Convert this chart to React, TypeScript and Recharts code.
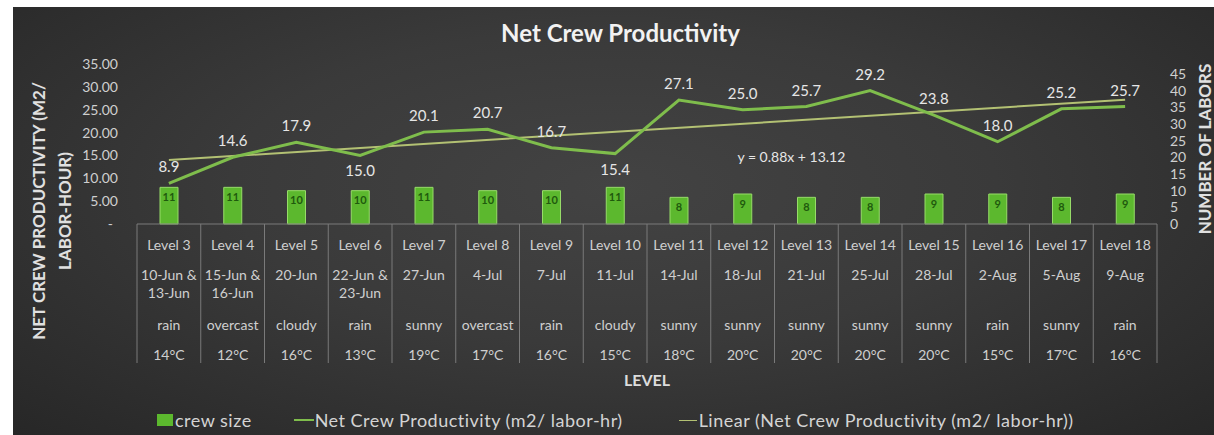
import React from 'react';
import {
    ComposedChart,
    Bar,
    Line,
    XAxis,
    YAxis,
    LabelList,
    Legend,
    ReferenceDot,
} from 'recharts';

const levels = [
    'Level 3', 'Level 4', 'Level 5', 'Level 6', 'Level 7', 'Level 8', 'Level 9', 'Level 10',
    'Level 11', 'Level 12', 'Level 13', 'Level 14', 'Level 15', 'Level 16', 'Level 17', 'Level 18',
];
const workDates = [
    '10-Jun &|13-Jun', '15-Jun &|16-Jun', '20-Jun', '22-Jun &|23-Jun', '27-Jun', '4-Jul', '7-Jul', '11-Jul',
    '14-Jul', '18-Jul', '21-Jul', '25-Jul', '28-Jul', '2-Aug', '5-Aug', '9-Aug',
];
const weather = [
    'rain', 'overcast', 'cloudy', 'rain', 'sunny', 'overcast', 'rain', 'cloudy',
    'sunny', 'sunny', 'sunny', 'sunny', 'sunny', 'rain', 'sunny', 'rain',
];
const temperatures = [
    '14°C', '12°C', '16°C', '13°C', '19°C', '17°C', '16°C', '15°C',
    '18°C', '20°C', '20°C', '20°C', '20°C', '15°C', '17°C', '16°C',
];
const crewSize = [11, 11, 10, 10, 11, 10, 10, 11, 8, 9, 8, 8, 9, 9, 8, 9];
const productivity = [8.9, 14.6, 17.9, 15.0, 20.1, 20.7, 16.7, 15.4, 27.1, 25.0, 25.7, 29.2, 23.8, 18.0, 25.2, 25.7];
// linear trendline, read at the first and last level
const trendline = [14.0, null, null, null, null, null, null, null, null, null, null, null, null, null, null, 27.2];
const leftTicks = [0, 5, 10, 15, 20, 25, 30, 35];
const rightTicks = [0, 5, 10, 15, 20, 25, 30, 35, 40, 45];
const labelsBelow = ['Level 6', 'Level 10'];

const data = levels.map((level, i) => ({
    level,
    crew: crewSize[i],
    productivity: productivity[i],
    trend: trendline[i],
}));

const W = 1201;
const H = 428;
const PLOT_LEFT = 124;
const PLOT_RIGHT = 1144;
const BAND = (PLOT_RIGHT - PLOT_LEFT) / levels.length;
const TEXT = '#cfcfcf';
const GRID = '#7a7a7a';
const BAR_GREEN = '#5cb82e';
const LINE_GREEN = '#7fbd4c';
const TREND_GREEN = '#b3c173';

const CategoryTick = ({ x, y, payload }: any) => {
    const i = levels.indexOf(payload.value);
    const dates = workDates[i].split('|');
    const left = x - BAND / 2;
    return (
        <g>
            <line x1={left} x2={left} y1={y} y2={y + 139} stroke={GRID} strokeWidth={1} />
            {i === levels.length - 1 && (
                <line x1={x + BAND / 2} x2={x + BAND / 2} y1={y} y2={y + 139} stroke={GRID} strokeWidth={1} />
            )}
            <text x={x} y={y + 26} textAnchor="middle" fill={TEXT} fontSize={14}>{levels[i]}</text>
            {dates.map((d, k) => (
                <text key={k} x={x} y={y + 56 + k * 18} textAnchor="middle" fill={TEXT} fontSize={14}>{d}</text>
            ))}
            <text x={x} y={y + 106} textAnchor="middle" fill={TEXT} fontSize={14}>{weather[i]}</text>
            <text x={x} y={y + 136} textAnchor="middle" fill={TEXT} fontSize={14}>{temperatures[i]}</text>
        </g>
    );
};

const LeftTick = ({ x, y, payload }: any) => (
    <text x={payload.value === 0 ? x - 5 : x} y={y + 5} textAnchor="end" fill={TEXT} fontSize={14}>
        {payload.value === 0 ? '-' : payload.value.toFixed(2)}
    </text>
);

const RightTick = ({ x, y, payload }: any) => (
    <text x={x} y={y + 5} textAnchor="start" fill={TEXT} fontSize={14}>{payload.value}</text>
);

const ProductivityLabel = ({ x, y, value, index }: any) => {
    const below = labelsBelow.includes(levels[index]);
    return (
        <text x={x} y={below ? y + 21 : y - 11} textAnchor="middle" fill="#e6e6e6" fontSize={15}>
            {Number(value).toFixed(1)}
        </text>
    );
};

const LegendContent = () => (
    <div style={{ height: 30, display: 'flex', alignItems: 'center', justifyContent: 'flex-start', color: '#d4d4d4', fontSize: 18, letterSpacing: 0.5, paddingLeft: 144 }}>
        <span style={{ display: 'flex', alignItems: 'center' }}>
            <span style={{ width: 16, height: 12, background: BAR_GREEN, marginRight: 2 }} />crew size
        </span>
        <span style={{ display: 'flex', alignItems: 'center', marginLeft: 42 }}>
            <span style={{ width: 20, height: 2, background: LINE_GREEN, marginRight: 1 }} />Net Crew Productivity (m2/ labor-hr)
        </span>
        <span style={{ display: 'flex', alignItems: 'center', marginLeft: 56 }}>
            <span style={{ width: 18, height: 1, background: TREND_GREEN, marginRight: 2 }} />Linear (Net Crew Productivity (m2/ labor-hr))
        </span>
    </div>
);

export default function App() {
    return (
        <div
            style={{
                position: 'absolute',
                left: 13,
                top: 7,
                width: W,
                height: H,
                fontFamily: 'Lato, "Open Sans", sans-serif',
                background: 'radial-gradient(ellipse at 50% 42%, #434343 0%, #3a3a3a 45%, #272727 100%)',
            }}
        >
            <div
                style={{
                    position: 'absolute',
                    top: 11,
                    left: 0,
                    width: W + 14,
                    textAlign: 'center',
                    color: '#f2f2f2',
                    fontSize: 24,
                    fontWeight: 700,
                }}
            >
                Net Crew Productivity
            </div>
            <ComposedChart width={W} height={H} data={data} margin={{ top: 57, right: 0, bottom: 0, left: 0 }}>
                <XAxis
                    dataKey="level"
                    height={181}
                    tickLine={false}
                    tickSize={0}
                    tickMargin={0}
                    interval={0}
                    axisLine={{ stroke: GRID }}
                    tick={<CategoryTick />}
                    label={({ viewBox }: any) => (
                        <text x={viewBox.x + viewBox.width / 2} y={viewBox.y + 162} textAnchor="middle" fill="#dcdcdc" fontSize={16} fontWeight={700}>
                            LEVEL
                        </text>
                    )}
                />
                <YAxis
                    yAxisId="left"
                    width={PLOT_LEFT}
                    domain={[0, 35]}
                    ticks={leftTicks}
                    interval={0}
                    axisLine={false}
                    tickLine={false}
                    tickSize={0}
                    tickMargin={19}
                    tick={<LeftTick />}
                    label={() => (
                        <text transform="translate(26 204) rotate(-90)" textAnchor="middle" fill="#e0e0e0" fontSize={17} fontWeight={700}>
                            <tspan x={0} y={6}>NET CREW PRODUCTIVITY (M2/</tspan>
                            <tspan x={0} y={32}>LABOR-HOUR)</tspan>
                        </text>
                    )}
                />
                <YAxis
                    yAxisId="right"
                    orientation="right"
                    width={W - PLOT_RIGHT}
                    domain={[0, 48]}
                    ticks={rightTicks}
                    interval={0}
                    axisLine={false}
                    tickLine={false}
                    tickSize={0}
                    tickMargin={13}
                    tick={<RightTick />}
                    label={() => (
                        <text transform="translate(1192 142) rotate(-90)" textAnchor="middle" fill="#e0e0e0" fontSize={17} fontWeight={700}>
                            <tspan x={0} y={6}>NUMBER OF LABORS</tspan>
                        </text>
                    )}
                />
                <Legend verticalAlign="bottom" content={<LegendContent />} />
                <Bar
                    yAxisId="right"
                    dataKey="crew"
                    name="crew size"
                    barSize={18}
                    fill={BAR_GREEN}
                    stroke="#97dc69"
                    strokeWidth={1}
                    isAnimationActive={false}
                >
                    <LabelList dataKey="crew" position="insideTop" offset={6} fill="#1f5a0d" fontSize={11} fontWeight={700} />
                </Bar>
                <Line
                    yAxisId="left"
                    dataKey="trend"
                    name="Linear (Net Crew Productivity (m2/ labor-hr))"
                    stroke={TREND_GREEN}
                    strokeWidth={2}
                    dot={false}
                    connectNulls
                    isAnimationActive={false}
                />
                <Line
                    yAxisId="left"
                    dataKey="productivity"
                    name="Net Crew Productivity (m2/ labor-hr)"
                    stroke={LINE_GREEN}
                    strokeWidth={3}
                    dot={false}
                    isAnimationActive={false}
                >
                    <LabelList dataKey="productivity" content={<ProductivityLabel />} />
                </Line>
                <ReferenceDot
                    yAxisId="left"
                    x="Level 13"
                    y={14.7}
                    r={0}
                    fill="none"
                    stroke="none"
                    label={({ viewBox }: any) => (
                        <text x={viewBox.x - 15} y={viewBox.y + 5} textAnchor="middle" fill="#e6e6e6" fontSize={14}>
                            y = 0.88x + 13.12
                        </text>
                    )}
                />
            </ComposedChart>
        </div>
    );
}
